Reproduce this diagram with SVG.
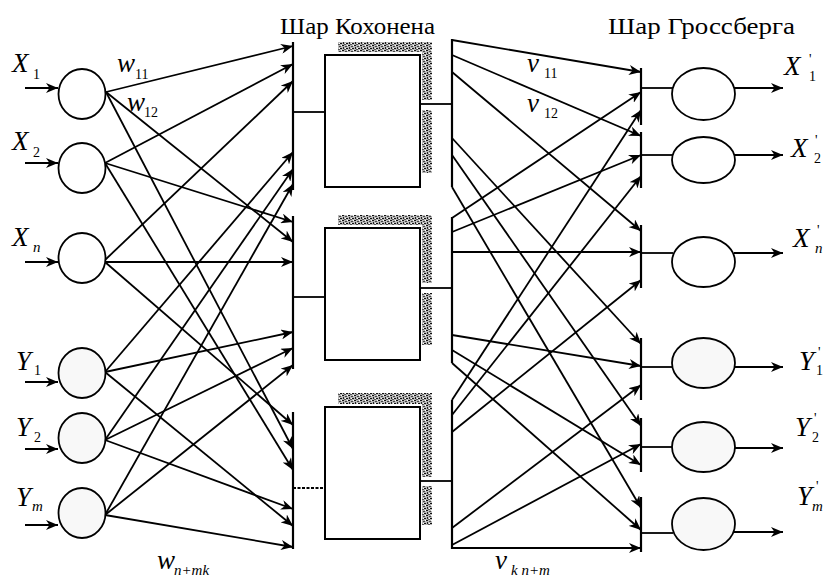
<svg xmlns="http://www.w3.org/2000/svg" width="824" height="577" viewBox="0 0 824 577">
<style>
.c{stroke:#000;stroke-width:1.8;fill:none;marker-end:url(#ah)}
.l{stroke:#000;stroke-width:1.8;fill:none}
.bus{stroke:#000;stroke-width:2.2;fill:none}
.n{fill:#fff;stroke:#000;stroke-width:1.8}
.g{fill:#f8f8f8;stroke:#000;stroke-width:1.8}
.box{fill:#fff;stroke:#000;stroke-width:2}
.sh{fill:url(#hatch)}
.t{font-family:'Liberation Serif','DejaVu Serif',serif;fill:#000}
.v{font-family:'Liberation Serif','DejaVu Serif',serif;font-style:italic;fill:#000;font-size:27px}
.s{font-family:'Liberation Serif','DejaVu Serif',serif;fill:#000;font-size:14px}
.si{font-family:'Liberation Serif','DejaVu Serif',serif;font-style:italic;fill:#000;font-size:15px}
</style>
<defs>
<marker id="ah" viewBox="0 0 12 10" refX="12" refY="5" markerWidth="12" markerHeight="10" markerUnits="userSpaceOnUse" orient="auto">
<path d="M0,0 L12,5 L0,10 L3.5,5 Z" fill="#000"/>
</marker>
<pattern id="hatch" width="6" height="5" patternUnits="userSpaceOnUse">
<rect width="6" height="5" fill="#b8b8b8"/>
<rect x="0" y="0" width="2" height="1" fill="#111"/>
<rect x="3" y="1" width="2" height="1" fill="#444"/>
<rect x="1" y="2" width="1" height="2" fill="#222"/>
<rect x="4" y="3" width="2" height="1" fill="#111"/>
<rect x="2" y="4" width="2" height="1" fill="#555"/>
<rect x="5" y="0" width="1" height="1" fill="#fff"/>
<rect x="3" y="3" width="1" height="1" fill="#fff"/>
</pattern>
</defs>
<rect width="824" height="577" fill="#fff"/>

<text class="t" x="280" y="34" font-size="23" textLength="155" lengthAdjust="spacingAndGlyphs">Шар Кохонена</text>
<text class="t" x="608" y="34" font-size="23" textLength="187" lengthAdjust="spacingAndGlyphs">Шар Гроссберга</text>

<g id="connectors">
<line class="c" x1="25" y1="88" x2="58" y2="88"/>
<line class="c" x1="25" y1="163" x2="58" y2="163"/>
<line class="c" x1="25" y1="262" x2="58" y2="262"/>
<line class="c" x1="25" y1="382" x2="58" y2="382"/>
<line class="c" x1="25" y1="449" x2="58" y2="449"/>
<line class="c" x1="25" y1="525" x2="58" y2="525"/>
<line class="c" x1="106" y1="92" x2="293" y2="46"/>
<line class="c" x1="106" y1="92" x2="293" y2="242"/>
<line class="c" x1="106" y1="92" x2="293" y2="449"/>
<line class="c" x1="105" y1="163" x2="293" y2="64"/>
<line class="c" x1="105" y1="163" x2="293" y2="222"/>
<line class="c" x1="105" y1="163" x2="293" y2="470"/>
<line class="c" x1="105" y1="260" x2="293" y2="81"/>
<line class="c" x1="105" y1="262" x2="293" y2="262"/>
<line class="c" x1="105" y1="262" x2="293" y2="425"/>
<line class="c" x1="105" y1="372" x2="293" y2="152"/>
<line class="c" x1="105" y1="372" x2="293" y2="332"/>
<line class="c" x1="105" y1="372" x2="293" y2="526"/>
<line class="c" x1="105" y1="440" x2="293" y2="169"/>
<line class="c" x1="105" y1="440" x2="293" y2="348"/>
<line class="c" x1="105" y1="440" x2="293" y2="509"/>
<line class="c" x1="105" y1="515" x2="293" y2="184"/>
<line class="c" x1="105" y1="515" x2="293" y2="365"/>
<line class="c" x1="105" y1="515" x2="293" y2="547"/>
<line class="bus" x1="293" y1="42" x2="293" y2="190"/>
<line class="bus" x1="293" y1="216" x2="293" y2="369"/>
<line class="bus" x1="293" y1="412" x2="293" y2="549"/>
<line class="l" x1="293" y1="112" x2="325" y2="112"/>
<line class="l" x1="293" y1="297" x2="325" y2="297"/>
<line class="l" x1="293" y1="488" x2="325" y2="488" stroke-dasharray="3,1.5" stroke-width="1.4"/>
<line class="l" x1="420" y1="104" x2="452" y2="104"/>
<line class="l" x1="420" y1="288" x2="452" y2="288"/>
<line class="l" x1="420" y1="481" x2="452" y2="481"/>
<line class="bus" x1="452" y1="39" x2="452" y2="187"/>
<line class="bus" x1="452" y1="217" x2="452" y2="363"/>
<line class="bus" x1="452" y1="400" x2="452" y2="549"/>
<line class="c" x1="452" y1="40" x2="641" y2="72"/>
<line class="c" x1="452" y1="55" x2="641" y2="136"/>
<line class="c" x1="452" y1="72" x2="641" y2="231"/>
<line class="c" x1="452" y1="138" x2="641" y2="344"/>
<line class="c" x1="452" y1="155" x2="641" y2="426"/>
<line class="c" x1="452" y1="187" x2="641" y2="508"/>
<line class="c" x1="452" y1="218" x2="641" y2="92"/>
<line class="c" x1="452" y1="232" x2="641" y2="155"/>
<line class="c" x1="452" y1="252" x2="641" y2="252"/>
<line class="c" x1="452" y1="335" x2="641" y2="366"/>
<line class="c" x1="452" y1="350" x2="641" y2="465"/>
<line class="c" x1="452" y1="363" x2="641" y2="530"/>
<line class="c" x1="452" y1="400" x2="641" y2="110"/>
<line class="c" x1="452" y1="415" x2="641" y2="176"/>
<line class="c" x1="452" y1="432" x2="641" y2="280"/>
<line class="c" x1="452" y1="528" x2="641" y2="385"/>
<line class="c" x1="452" y1="545" x2="641" y2="444"/>
<line class="c" x1="452" y1="548" x2="641" y2="548"/>
<line class="bus" x1="641" y1="68" x2="641" y2="125"/>
<line class="bus" x1="641" y1="132" x2="641" y2="188"/>
<line class="bus" x1="641" y1="225" x2="641" y2="288"/>
<line class="bus" x1="641" y1="338" x2="641" y2="400"/>
<line class="bus" x1="641" y1="418" x2="641" y2="472"/>
<line class="bus" x1="641" y1="497" x2="641" y2="552"/>
<line class="l" x1="641" y1="88" x2="673" y2="88"/>
<line class="l" x1="641" y1="155" x2="673" y2="155"/>
<line class="l" x1="641" y1="253" x2="673" y2="253"/>
<line class="l" x1="641" y1="367" x2="673" y2="367"/>
<line class="l" x1="641" y1="447" x2="673" y2="447"/>
<line class="l" x1="641" y1="533" x2="673" y2="533"/>
<line class="c" x1="734" y1="88" x2="783" y2="88"/>
<line class="c" x1="734" y1="155" x2="783" y2="155"/>
<line class="c" x1="734" y1="253" x2="783" y2="253"/>
<line class="c" x1="734" y1="367" x2="783" y2="367"/>
<line class="c" x1="734" y1="448" x2="783" y2="448"/>
<line class="c" x1="734" y1="532" x2="783" y2="532"/>
</g>

<g id="in-x1"><ellipse class="n" cx="82" cy="94" rx="23.5" ry="25"/></g>
<g id="in-x2"><ellipse class="n" cx="82" cy="168" rx="23.5" ry="25"/></g>
<g id="in-xn"><ellipse class="n" cx="82" cy="258" rx="23.5" ry="25"/></g>
<g id="in-y1"><ellipse class="g" cx="82" cy="373" rx="23.5" ry="25"/></g>
<g id="in-y2"><ellipse class="g" cx="82" cy="438" rx="23.5" ry="25"/></g>
<g id="in-ym"><ellipse class="g" cx="82" cy="513" rx="23.5" ry="25"/></g>

<g id="k1">
<rect class="sh" x="338" y="42" width="94" height="10"/>
<rect class="sh" x="422" y="42" width="10" height="58"/>
<rect class="sh" x="422" y="110" width="10" height="63"/>
<rect class="box" x="325" y="55" width="95" height="132"/>
</g>
<g id="k2">
<rect class="sh" x="338" y="215" width="94" height="10"/>
<rect class="sh" x="422" y="215" width="10" height="68"/>
<rect class="sh" x="422" y="293" width="10" height="52"/>
<rect class="box" x="325" y="228" width="95" height="132"/>
</g>
<g id="k3">
<rect class="sh" x="338" y="393" width="94" height="11"/>
<rect class="sh" x="422" y="393" width="10" height="84"/>
<rect class="sh" x="422" y="486" width="10" height="39"/>
<rect class="box" x="325" y="407" width="95" height="132"/>
</g>

<g id="out-x1"><ellipse class="n" cx="703.5" cy="94" rx="31.5" ry="26"/></g>
<g id="out-x2"><ellipse class="n" cx="703.5" cy="160" rx="31.5" ry="23"/></g>
<g id="out-xn"><ellipse class="n" cx="703.5" cy="262" rx="31.5" ry="25"/></g>
<g id="out-y1"><ellipse class="g" cx="703.5" cy="363" rx="31.5" ry="25"/></g>
<g id="out-y2"><ellipse class="g" cx="703.5" cy="447" rx="31.5" ry="25"/></g>
<g id="out-ym"><ellipse class="g" cx="703.5" cy="524" rx="31.5" ry="26"/></g>

<text class="v" x="12" y="72">X</text><text class="s" x="33" y="79">1</text>
<text class="v" x="12" y="150">X</text><text class="s" x="33" y="157">2</text>
<text class="v" x="12" y="246">X</text><text class="si" x="33" y="252">n</text>
<text class="v" x="16" y="370">Y</text><text class="s" x="34" y="375">1</text>
<text class="v" x="16" y="436">Y</text><text class="s" x="34" y="442">2</text>
<text class="v" x="16" y="506">Y</text><text class="si" x="32" y="511">m</text>

<text class="v" x="784" y="75">X</text><text class="s" x="809" y="64">'</text><text class="s" x="809" y="81">1</text>
<text class="v" x="791" y="157">X</text><text class="s" x="815" y="145">'</text><text class="s" x="814" y="163">2</text>
<text class="v" x="793" y="247">X</text><text class="s" x="817" y="235">'</text><text class="si" x="815" y="253">n</text>
<text class="v" x="799" y="370">Y</text><text class="s" x="818" y="357">'</text><text class="s" x="816" y="375">1</text>
<text class="v" x="795" y="436">Y</text><text class="s" x="814" y="423">'</text><text class="s" x="812" y="442">2</text>
<text class="v" x="797" y="505">Y</text><text class="s" x="816" y="491">'</text><text class="si" x="812" y="511">m</text>

<text class="v" x="117" y="72" font-size="26">w</text><text class="s" x="135" y="79" font-size="13">11</text>
<text class="v" x="127" y="111" font-size="26">w</text><text class="s" x="144" y="117" font-size="13">12</text>
<text class="v" x="157" y="569" font-size="26">w</text><text class="si" x="174" y="575">n+mk</text>
<text class="v" x="527" y="72" font-size="26">v</text><text class="s" x="544" y="78" font-size="13">11</text>
<text class="v" x="527" y="112" font-size="26">v</text><text class="s" x="544" y="118" font-size="13">12</text>
<text class="v" x="495" y="569" font-size="26">v</text><text class="si" x="511" y="575">k n+m</text>
</svg>
